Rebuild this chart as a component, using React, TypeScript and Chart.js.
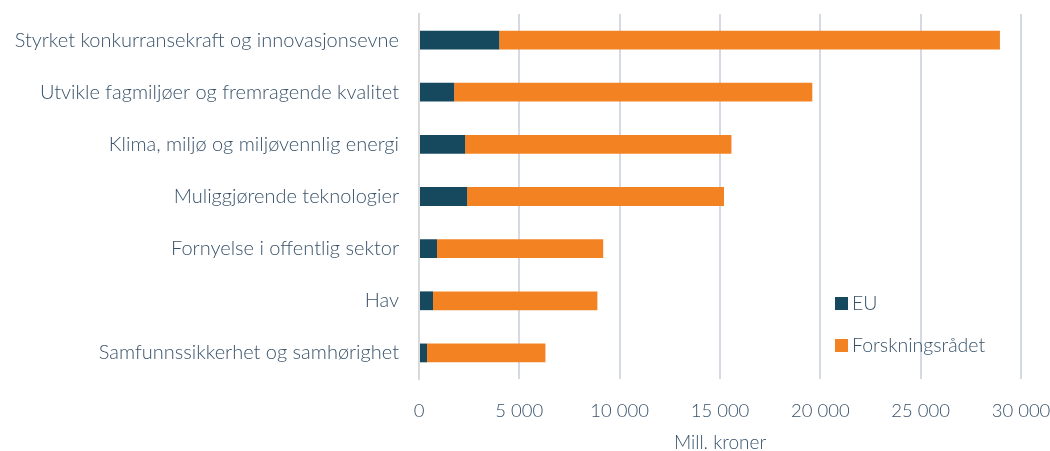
import React, { useEffect, useRef } from "react";
import { Chart, registerables } from "chart.js";

Chart.register(...registerables);

const categories: string[] = [
  "Styrket konkurransekraft og innovasjonsevne",
  "Utvikle fagmiljøer og fremragende kvalitet",
  "Klima, miljø og miljøvennlig energi",
  "Muliggjørende teknologier",
  "Fornyelse i offentlig sektor",
  "Hav",
  "Samfunnssikkerhet og samhørighet",
];

const euValues: number[] = [4000, 1750, 2300, 2400, 900, 700, 400];
const forskningsradetValues: number[] = [24950, 17850, 13270, 12800, 8280, 8190, 5900];

const seriesNames: string[] = ["EU", "Forskningsrådet"];
const seriesColors: string[] = ["#17495e", "#f38322"];

const xMin = 0;
const xMax = 30000;
const xStep = 5000;
const xTitle = "Mill. kroner";

const FONT = "Lato, 'Source Sans Pro', sans-serif";
const TEXT = "#38526a";

function formatNumber(v: number): string {
  const s = Math.round(v).toString();
  return s.replace(/\B(?=(\d{3})+(?!\d))/g, " ");
}

export default function App() {
  const canvasRef = useRef<HTMLCanvasElement | null>(null);

  useEffect(() => {
    const canvas = canvasRef.current;
    if (!canvas) return;
    const chart = new Chart(canvas, {
      type: "bar",
      data: {
        labels: categories,
        datasets: [
          {
            label: seriesNames[0],
            data: euValues,
            backgroundColor: seriesColors[0],
            categoryPercentage: 1,
            barPercentage: 0.36,
          },
          {
            label: seriesNames[1],
            data: forskningsradetValues,
            backgroundColor: seriesColors[1],
            categoryPercentage: 1,
            barPercentage: 0.36,
          },
        ],
      },
      options: {
        indexAxis: "y",
        animation: false,
        responsive: false,
        maintainAspectRatio: false,
        layout: { padding: { left: 0, right: 29, top: 14, bottom: 0 } },
        plugins: {
          legend: { display: false },
          tooltip: { enabled: false },
        },
        scales: {
          x: {
            stacked: true,
            min: xMin,
            max: xMax,
            position: "bottom",
            border: { display: false },
            grid: {
              color: "#d5d9e4",
              lineWidth: 2,
              drawTicks: false,
            },
            ticks: {
              stepSize: xStep,
              padding: 21,
              color: TEXT,
              font: { family: FONT, size: 18.5, weight: 300 as any },
              callback: (v: any) => formatNumber(Number(v)),
            },
            title: {
              display: true,
              text: xTitle,
              color: TEXT,
              padding: { top: 11, bottom: -3 },
              font: { family: FONT, size: 19, weight: 300 as any },
            },
            afterFit: (scale: any) => {
              scale.height = 72;
              scale.paddingRight = 0;
              scale.paddingLeft = 0;
            },
          },
          y: {
            stacked: true,
            border: { display: true, color: "#d9d9d9", width: 2 },
            grid: { display: false, drawTicks: false },
            ticks: {
              padding: 20,
              color: TEXT,
              font: { family: FONT, size: 20, weight: 300 as any },
            },
            afterFit: (scale: any) => {
              scale.width = 419;
              scale.paddingTop = 0;
              scale.paddingBottom = 0;
            },
          },
        },
      },
    });
    return () => chart.destroy();
  }, []);

  const legendText: React.CSSProperties = {
    fontFamily: FONT,
    fontWeight: 300,
    fontSize: 19.5,
    color: TEXT,
    lineHeight: "20px",
  };

  return (
    <div style={{ position: "fixed", left: 0, top: 0, width: 1050, height: 451, background: "#fff", overflow: "hidden" }}>
      <canvas ref={canvasRef} width={1050} height={451} style={{ width: 1050, height: 451, display: "block" }} />
      <div style={{ position: "absolute", left: 835, top: 293, display: "flex", alignItems: "center" }}>
        <span style={{ width: 13, height: 13, background: seriesColors[0], display: "inline-block", marginRight: 4 }} />
        <span style={legendText}>{seriesNames[0]}</span>
      </div>
      <div style={{ position: "absolute", left: 835, top: 335, display: "flex", alignItems: "center" }}>
        <span style={{ width: 13, height: 13, background: seriesColors[1], display: "inline-block", marginRight: 4 }} />
        <span style={legendText}>{seriesNames[1]}</span>
      </div>
    </div>
  );
}
